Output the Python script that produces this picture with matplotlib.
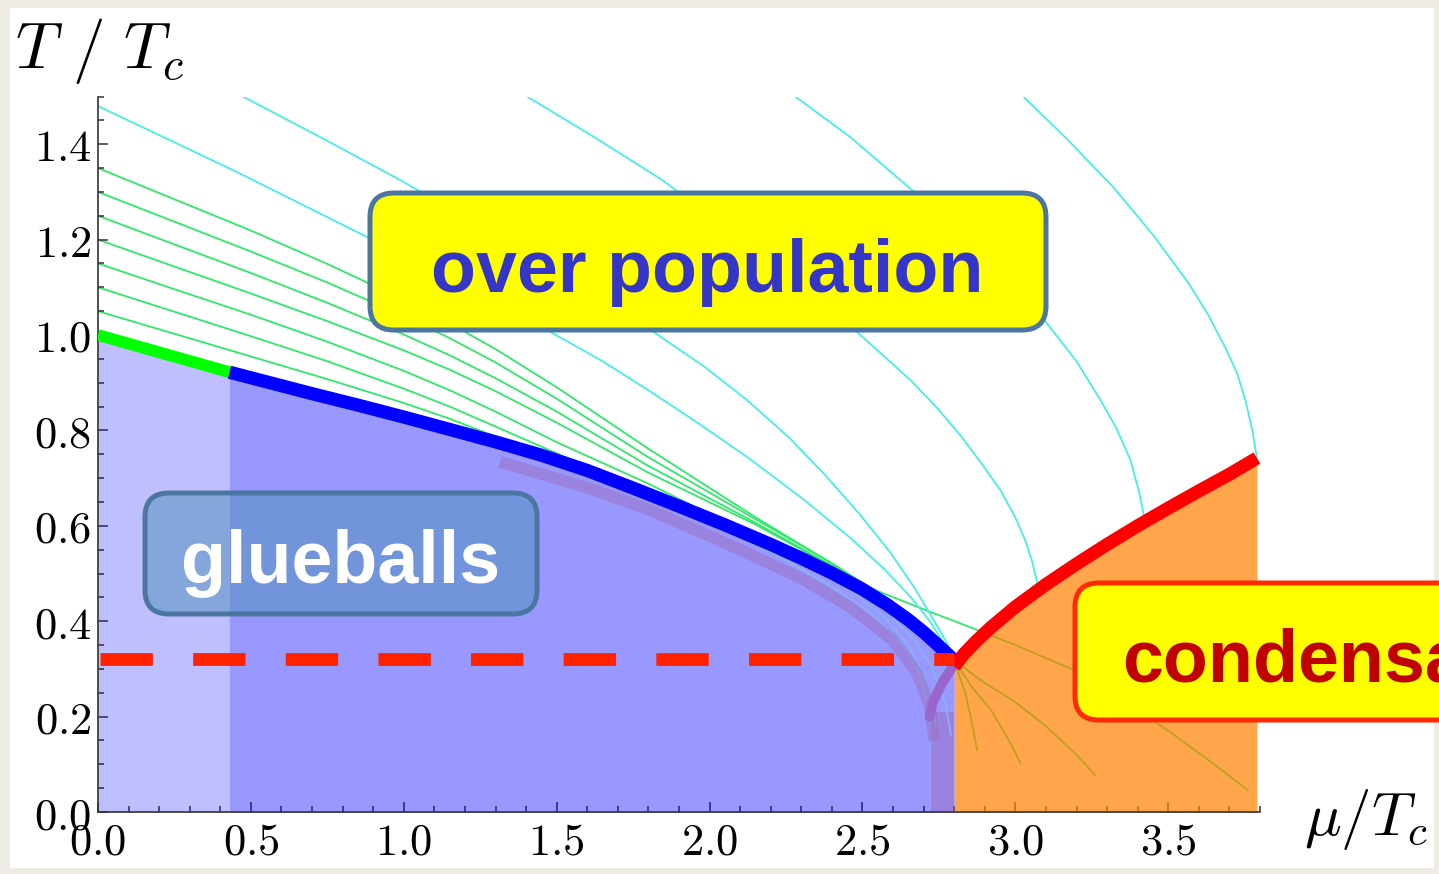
import matplotlib.pyplot as plt
from matplotlib.colors import to_rgba
from matplotlib.patches import FancyBboxPatch, Rectangle
from matplotlib.ticker import MultipleLocator
from matplotlib.transforms import IdentityTransform

plt.rcParams['mathtext.fontset'] = 'cm'

W, H = 1439, 874

# phase boundaries in (mu/Tc, T/Tc)
green_mu = [0.0, 0.43]
green_T = [1.0, 0.922]
blue_mu = [0.43, 0.55, 0.70, 0.85, 1.00, 1.15, 1.30, 1.45, 1.60, 1.75, 1.90,
           2.05, 2.20, 2.30, 2.40, 2.50, 2.58, 2.65, 2.70, 2.75, 2.80]
blue_T = [0.922, 0.902, 0.877, 0.853, 0.828, 0.802, 0.776, 0.748, 0.716, 0.679, 0.641,
          0.602, 0.561, 0.532, 0.501, 0.467, 0.435, 0.403, 0.377, 0.348, 0.318]
red_mu = [2.80, 2.83, 2.87, 2.92, 3.00, 3.10, 3.20, 3.30, 3.40, 3.50, 3.60, 3.70, 3.79]
red_T = [0.305, 0.33, 0.357, 0.387, 0.43, 0.477, 0.52, 0.561, 0.60, 0.637, 0.673, 0.708, 0.742]
crit_T = 0.32
crit_mu = 2.80

# spinodal-like band inside the glueball phase
band_mu = [1.315, 1.6, 1.806, 2.1, 2.3, 2.46, 2.6, 2.68, 2.72, 2.735]
band_T = [0.734, 0.68, 0.633, 0.55, 0.49, 0.43, 0.36, 0.29, 0.22, 0.15]
hook_mu = [2.80, 2.76, 2.73, 2.72]
hook_T = [0.31, 0.27, 0.23, 0.20]

# trajectories starting on the T axis, running into the boundary
green_lines = [
    ([0, 0.25, 0.5, 0.75, 1.0, 1.15, 1.3],
     [1.05, 1.0025, 0.955, 0.9075, 0.8575, 0.8245, 0.787]),
    ([0, 0.25, 0.5, 0.75, 1.0, 1.15, 1.3, 1.5, 1.8, 2.0],
     [1.10, 1.0488, 0.9975, 0.945, 0.8875, 0.85, 0.808, 0.752, 0.668, 0.612]),
    ([0, 0.25, 0.5, 0.75, 1.0, 1.15, 1.3, 1.5, 1.8, 2.15, 2.3],
     [1.15, 1.096, 1.0425, 0.986, 0.9248, 0.8843, 0.8393, 0.7753, 0.6883, 0.5763, 0.531]),
    ([0, 0.25, 0.5, 0.75, 1.0, 1.15, 1.3, 1.5, 1.8, 2.15, 2.4],
     [1.20, 1.1435, 1.087, 1.029, 0.9678, 0.9273, 0.8823, 0.8163, 0.7113, 0.6028, 0.5153]),
    ([0, 0.25, 0.5, 0.75, 1.0, 1.15, 1.3, 1.5, 1.8, 2.15, 2.5],
     [1.25, 1.19, 1.13, 1.0675, 1.001, 0.9575, 0.9095, 0.8395, 0.7255, 0.6065, 0.4805]),
    ([0, 0.25, 0.5, 0.75, 1.0, 1.15, 1.3, 1.5, 1.8, 2.15, 2.4, 2.55],
     [1.30, 1.2375, 1.175, 1.11, 1.04, 0.9935, 0.9425, 0.8665, 0.7435, 0.614, 0.5215, 0.46]),
    ([0, 0.25, 0.5, 0.75, 1.0, 1.15, 1.3, 1.5, 1.8, 2.15, 2.4, 2.6],
     [1.35, 1.2845, 1.219, 1.149, 1.074, 1.0245, 0.9705, 0.8905, 0.7615, 0.618, 0.521, 0.435]),
]
# the trajectory that leaves the boundary and crosses into the condensate
cross_mu = [2.45, 2.57, 2.70, 2.89, 3.00, 3.19, 3.35, 3.51, 3.65, 3.76]
cross_T = [0.49, 0.458, 0.425, 0.378, 0.35, 0.298, 0.235, 0.166, 0.10, 0.046]

# trajectories entering from the top edge
cyan_lines = [
    ([0, 0.45, 0.9, 1.2, 1.47, 1.65, 1.81, 1.97, 2.13, 2.3, 2.46, 2.57, 2.66, 2.72, 2.77, 2.80],
     [1.48, 1.343, 1.199, 1.10, 1.01, 0.945, 0.88, 0.812, 0.741, 0.659, 0.575, 0.51, 0.449,
      0.40, 0.35, 0.318]),
    ([0.474, 0.75, 0.988, 1.25, 1.55, 1.82, 1.98, 2.12, 2.26, 2.38, 2.49, 2.59, 2.67, 2.74,
      2.78, 2.80],
     [1.50, 1.407, 1.325, 1.228, 1.114, 1.005, 0.935, 0.865, 0.785, 0.705, 0.625, 0.545, 0.47,
      0.395, 0.35, 0.32]),
    ([1.403, 1.62, 1.845, 2.15, 2.476, 2.656, 2.74, 2.82, 2.89, 2.951, 3.0, 3.032, 3.055, 3.075],
     [1.50, 1.416, 1.325, 1.18, 1.01, 0.906, 0.85, 0.79, 0.73, 0.675, 0.617, 0.57, 0.525, 0.472]),
    ([2.28, 2.46, 2.669, 2.88, 3.095, 3.2, 3.278, 3.33, 3.376, 3.405, 3.425],
     [1.50, 1.415, 1.30, 1.175, 1.031, 0.945, 0.864, 0.805, 0.738, 0.67, 0.606]),
    ([3.026, 3.17, 3.32, 3.45, 3.566, 3.63, 3.69, 3.725, 3.752, 3.775, 3.79],
     [1.50, 1.41, 1.31, 1.21, 1.109, 1.043, 0.969, 0.92, 0.864, 0.80, 0.742]),
]

# trajectories fanning out of the critical point below the condensation line
fan_lines = [
    ([2.80, 2.82, 2.84, 2.86, 2.875], [0.318, 0.28, 0.24, 0.18, 0.13]),
    ([2.80, 2.86, 2.92, 2.97, 3.0, 3.016], [0.318, 0.26, 0.214, 0.16, 0.125, 0.103]),
    ([2.80, 2.9, 2.99, 3.1, 3.2, 3.26], [0.318, 0.27, 0.235, 0.18, 0.12, 0.078]),
]

# trajectories seen through the glueball region
inner_lines = [
    ([2.0, 2.2, 2.38, 2.52, 2.62, 2.68, 2.71], [0.605, 0.545, 0.48, 0.42, 0.36, 0.30, 0.24]),
    ([2.15, 2.3, 2.45, 2.57, 2.65, 2.70, 2.73, 2.74],
     [0.57, 0.525, 0.47, 0.41, 0.35, 0.29, 0.23, 0.18]),
    ([2.3, 2.45, 2.58, 2.67, 2.73, 2.77, 2.79], [0.525, 0.475, 0.42, 0.36, 0.30, 0.23, 0.16]),
]

x_ticks = [0.0, 0.5, 1.0, 1.5, 2.0, 2.5, 3.0, 3.5]
y_ticks = [0.0, 0.2, 0.4, 0.6, 0.8, 1.0, 1.2, 1.4]

fig = plt.figure(figsize=(W / 100, H / 100), dpi=100, facecolor='#eeeae4')
fig.add_artist(Rectangle((10 / W, 1 - 868 / H), 1424 / W, 860 / H,
                         transform=fig.transFigure, facecolor='white',
                         edgecolor='none', zorder=-5))

ax = fig.add_axes([98 / W, 1 - 812 / H, 1162 / W, 715.5 / H])
ax.set_xlim(0, 3.8)
ax.set_ylim(0, 1.5)
ax.patch.set_visible(False)

for mu, T in green_lines:
    ax.plot(mu, T, color='#30e86a', lw=1.3, zorder=1)
ax.plot(cross_mu, cross_T, color='#30e86a', lw=1.3, zorder=1)
for mu, T in fan_lines:
    ax.plot(mu, T, color='#30e86a', lw=1.3, zorder=1)
for mu, T in cyan_lines:
    ax.plot(mu, T, color='#45efe2', lw=1.3, zorder=1)

# phase regions
boundary_mu = green_mu + blue_mu[1:]
boundary_T = green_T + blue_T[1:]
ax.fill_between(boundary_mu, 0, boundary_T, color='blue', alpha=0.25, lw=0, zorder=2)
ax.fill_between(blue_mu, 0, blue_T, color='blue', alpha=0.2, lw=0, zorder=2)
ax.fill_between([2.725, crit_mu], 0, [0.21, 0.21], color='#9a70c0', alpha=0.5, lw=0, zorder=2)
ax.fill_between(red_mu, 0, red_T, color='#ff8000', alpha=0.7, lw=0, zorder=2)

for mu, T in inner_lines:
    ax.plot(mu, T, color='#86b4f4', lw=1.2, zorder=2.5)

ax.plot(band_mu, band_T, color='#9a70c0', alpha=0.5, lw=8.5, solid_capstyle='butt', zorder=3)
ax.plot(hook_mu, hook_T, color='#9966cc', lw=7, solid_capstyle='round', zorder=3)

ax.plot(green_mu, green_T, color='#00ff00', lw=8.5, solid_capstyle='butt', zorder=4)
ax.plot(blue_mu, blue_T, color='#0000ff', lw=9.5, solid_capstyle='butt', zorder=4)
ax.plot(red_mu, red_T, color='#ff0000', lw=9.5, solid_capstyle='butt', zorder=4)
ax.plot([0.007, crit_mu], [crit_T, crit_T], color='#ff2200', lw=9.2,
        dashes=(4.1, 3.15), dash_capstyle='butt', zorder=5)

for side in ('top', 'right'):
    ax.spines[side].set_visible(False)
for side in ('left', 'bottom'):
    ax.spines[side].set_linewidth(1.2)
    ax.spines[side].set_color('#333333')
ax.set_xticks(x_ticks, labels=[f'${v:.1f}$' for v in x_ticks])
ax.set_yticks(y_ticks, labels=[f'${v:.1f}$' for v in y_ticks])
ax.xaxis.set_minor_locator(MultipleLocator(0.1))
ax.yaxis.set_minor_locator(MultipleLocator(0.05))
ax.tick_params(which='both', direction='in', color='#333333', width=1.1, labelsize=32)
ax.tick_params(which='major', length=7)
ax.tick_params(which='minor', length=4)
ax.tick_params(axis='x', pad=6)
ax.tick_params(axis='y', pad=5)

fig.text(15 / W, 1 - 68 / H, r'$T\ /\ T_c$', fontsize=47, ha='left', va='baseline')
fig.text(1304 / W, 1 - 835 / H, r'$\mu/T_c$', fontsize=44, ha='left', va='baseline')


def label_box(x0, y0, x1, y1, face, edge, text, tx, ty, tcolor, ha='center', alpha=1.0):
    # box and text placed in pixels, measured from the top-left corner
    box = FancyBboxPatch((x0, H - y1), x1 - x0, y1 - y0,
                         boxstyle='round,pad=0,rounding_size=24',
                         transform=IdentityTransform(),
                         facecolor=to_rgba(face, alpha), edgecolor=edge,
                         lw=3.6, zorder=6)
    fig.add_artist(box)
    fig.text(tx, H - ty, text, transform=IdentityTransform(), fontsize=53,
             family='Liberation Sans', weight='bold', color=tcolor,
             ha=ha, va='baseline', zorder=7)


label_box(370, 193, 1046, 330, '#ffff00', '#4a76a0', 'over population', 707, 292, '#3535c8')
label_box(145, 493, 537, 614, '#5492bc', '#4a76a0', 'glueballs', 341, 583, 'white', alpha=0.55)
label_box(1075, 583, 1500, 720, '#ffff00', '#ff2a00', 'condensate', 1122, 682, '#c00000', ha='left')

fig.savefig('out.png', dpi=100, facecolor=fig.get_facecolor())
